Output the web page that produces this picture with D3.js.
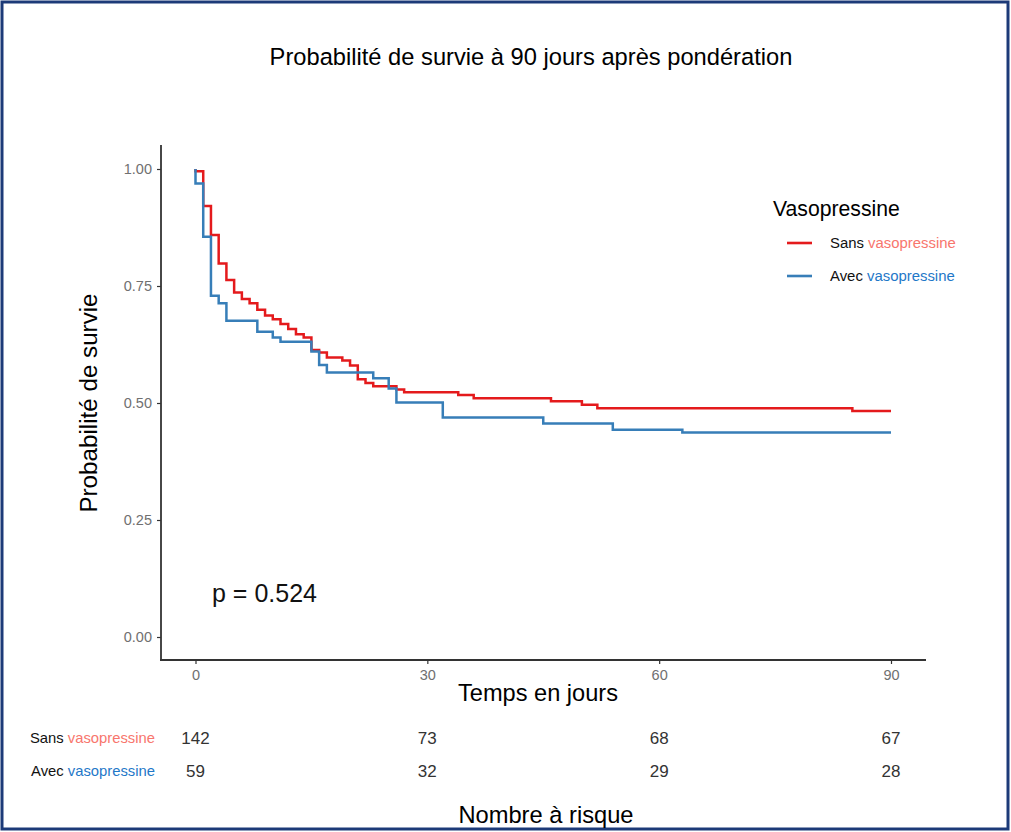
<!DOCTYPE html>
<html>
<head>
<meta charset="utf-8">
<script src="https://cdn.jsdelivr.net/npm/d3@7"></script>
<style>
  html, body { margin: 0; padding: 0; background: #fff; }
  svg { display: block; }
  text { font-family: "Liberation Sans", Arial, Helvetica, sans-serif; }
</style>
</head>
<body>
<svg id="chart" width="1011" height="832"></svg>
<script>
// ---- Data ----
const groups = ["Sans", "Avec"];
const groupSuffix = "vasopressine";
// Kaplan-Meier step points [time (days), survival]
const sansTimes = [0, 0, 1, 2, 3, 4, 5, 6, 7, 8, 9, 10, 11, 12, 13, 14, 15, 16, 17, 19, 20, 21, 22, 23, 26, 27, 34, 36, 46, 50, 52, 85, 90];
const sansSurv  = [1.0, 0.995, 0.921, 0.859, 0.798, 0.763, 0.736, 0.722, 0.713, 0.699, 0.687, 0.679, 0.669, 0.658, 0.647, 0.640, 0.613, 0.608, 0.597, 0.591, 0.580, 0.551, 0.543, 0.536, 0.529, 0.523, 0.517, 0.510, 0.504, 0.496, 0.489, 0.483, 0.483];
const avecTimes = [0, 0, 1, 2, 3, 4, 8, 10, 11, 15, 16, 17, 23, 25, 26, 32, 45, 54, 63, 90];
const avecSurv  = [1.0, 0.969, 0.855, 0.729, 0.713, 0.676, 0.652, 0.640, 0.631, 0.610, 0.581, 0.565, 0.553, 0.531, 0.501, 0.469, 0.456, 0.443, 0.437, 0.437];
const xTicks = [0, 30, 60, 90];
const yTicks = [0, 0.25, 0.5, 0.75, 1.0];
const riskSans = [142, 73, 68, 67];
const riskAvec = [59, 32, 29, 28];
const pValue = "p = 0.524";

// ---- Layout ----
const svg = d3.select("#chart");
const colors = { Sans: "#e41a1c", Avec: "#377eb8" };
const labelColors = { Sans: "#f8766d", Avec: "#1f78c8" };

// Outer frame
svg.append("rect").attr("x", 2).attr("y", 2).attr("width", 1006).attr("height", 827)
  .attr("fill", "none").attr("stroke", "#1c3a78").attr("stroke-width", 3);

const x = d3.scaleLinear().domain([0, 90]).range([195.5, 891]);
const y = d3.scaleLinear().domain([0, 1]).range([637, 169]);

// Title
svg.append("text").attr("x", 531).attr("y", 65).attr("text-anchor", "middle")
  .attr("font-size", 23.7).attr("fill", "#000")
  .text("Probabilité de survie à 90 jours après pondération");

// Axes
const xAxis = svg.append("g").attr("transform", "translate(0,660)")
  .call(d3.axisBottom(x).tickValues(xTicks).tickSize(4).tickPadding(6).tickFormat(d3.format("d")));
const yAxis = svg.append("g").attr("transform", "translate(161,0)")
  .call(d3.axisLeft(y).tickValues(yTicks).tickSize(4).tickPadding(5).tickFormat(d3.format(".2f")));
[xAxis, yAxis].forEach(a => {
  a.select(".domain").remove();
  a.selectAll(".tick line").attr("stroke", "#333").attr("stroke-width", 1.2);
  a.selectAll(".tick text").attr("fill", "#707070").attr("font-size", 14.5)
    .attr("font-family", "'Liberation Sans', Arial, sans-serif");
});
// axis lines
svg.append("line").attr("x1", 161).attr("x2", 161).attr("y1", 145).attr("y2", 660)
  .attr("stroke", "#333").attr("stroke-width", 1.8);
svg.append("line").attr("x1", 160).attr("x2", 926).attr("y1", 660).attr("y2", 660)
  .attr("stroke", "#333").attr("stroke-width", 1.8);

// Axis titles
svg.append("text").attr("x", 538).attr("y", 701).attr("text-anchor", "middle")
  .attr("font-size", 23.6).attr("fill", "#000").text("Temps en jours");
svg.append("text").attr("transform", "translate(97,403) rotate(-90)").attr("text-anchor", "middle")
  .attr("font-size", 24.2).attr("fill", "#000").text("Probabilité de survie");

// Curves
const line = d3.line().x(d => x(d[0])).y(d => y(d[1])).curve(d3.curveStepAfter);
function draw(times, surv, col) {
  const pts = times.map((t, i) => [t, surv[i]]);
  svg.append("path").datum(pts).attr("d", line).attr("fill", "none")
    .attr("stroke", col).attr("stroke-width", 2.5);
}
draw(sansTimes, sansSurv, colors.Sans);
draw(avecTimes, avecSurv, colors.Avec);

// p-value
svg.append("text").attr("x", 212).attr("y", 602).attr("font-size", 25).attr("fill", "#111").text(pValue);

// Legend
svg.append("text").attr("x", 773).attr("y", 216).attr("font-size", 21.2).attr("fill", "#000").text("Vasopressine");
groups.forEach((g, i) => {
  const ly = 243 + i * 33;
  svg.append("line").attr("x1", 787).attr("x2", 812).attr("y1", ly).attr("y2", ly)
    .attr("stroke", colors[g]).attr("stroke-width", 2.6);
  const t = svg.append("text").attr("x", 830).attr("y", ly + 5).attr("font-size", 14.9).attr("fill", "#111");
  t.append("tspan").text(g + " ");
  t.append("tspan").attr("fill", labelColors[g]).text(groupSuffix);
});

// Risk table
const riskRows = [["Sans", riskSans, 743], ["Avec", riskAvec, 776]];
riskRows.forEach(([g, vals, ry]) => {
  const t = svg.append("text").attr("x", 155).attr("y", ry).attr("text-anchor", "end")
    .attr("font-size", 14.8).attr("fill", "#111");
  t.append("tspan").text(g + " ");
  t.append("tspan").attr("fill", labelColors[g]).text(groupSuffix);
  svg.selectAll(null).data(vals).enter().append("text")
    .attr("x", (d, i) => x(xTicks[i])).attr("y", ry + 1).attr("text-anchor", "middle")
    .attr("font-size", 17).attr("fill", "#333").text(d => d);
});
svg.append("text").attr("x", 546).attr("y", 823).attr("text-anchor", "middle")
  .attr("font-size", 23.7).attr("fill", "#000").text("Nombre à risque");
</script>
</body>
</html>
